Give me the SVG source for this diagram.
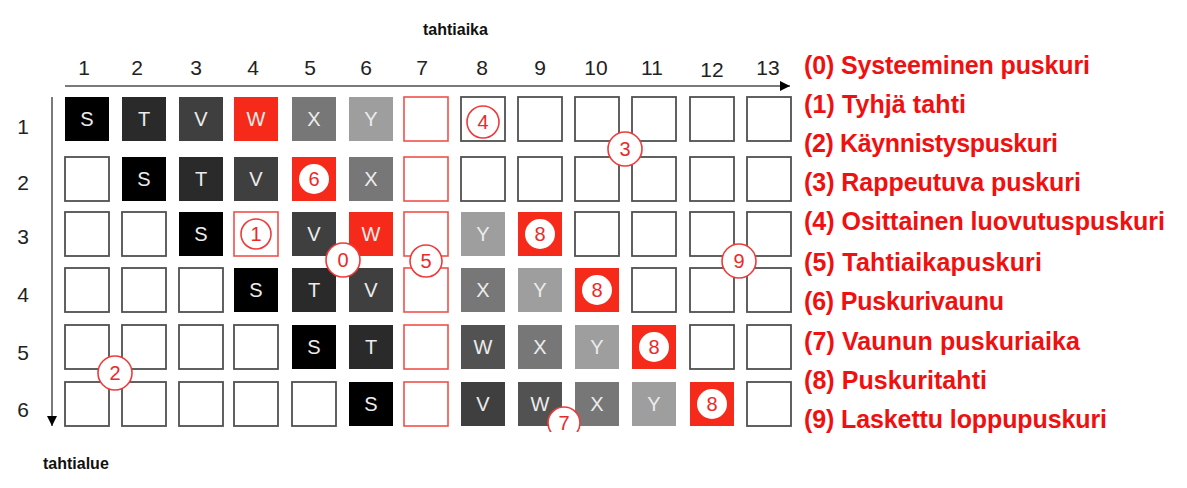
<svg xmlns="http://www.w3.org/2000/svg" width="1187" height="488" viewBox="0 0 1187 488">
<style>
.bg{fill:#fff}
.box{fill:#fff;stroke:#505050;stroke-width:1.8}
.rbox{fill:#fff;stroke:#f0504a;stroke-width:1.6}
.s{fill:#000}.t{fill:#2a2a2a}.v{fill:#3f3f3f}.wg{fill:#525252}.x{fill:#777}.y{fill:#9e9e9e}.wr{fill:#f52a1a}.r8{fill:#f52a1a}
.lt{font-family:"Liberation Sans",Arial,sans-serif;font-size:20px;fill:#ececec;text-anchor:middle}
.num{font-family:"Liberation Sans",Arial,sans-serif;font-size:21px;fill:#222;text-anchor:middle}
.ax{font-family:"Liberation Sans",Arial,sans-serif;font-size:16px;font-weight:bold;fill:#111}
.co{fill:#fff;stroke:#ef3a3a;stroke-width:1.6}
.ci{fill:#fff}
.cn{font-family:"Liberation Sans",Arial,sans-serif;font-size:20px;fill:#ea2a2a;text-anchor:middle}
.lg{font-family:"Liberation Sans",Arial,sans-serif;font-size:25px;font-weight:bold;fill:#f01010}
.axis{stroke:#7a7a7a;stroke-width:2;fill:none}
</style>
<defs>
<marker id="ah" viewBox="0 0 10 10" refX="10" refY="5" markerWidth="11" markerHeight="10" markerUnits="userSpaceOnUse" orient="auto"><path d="M0,0 L10,5 L0,10 z" fill="#000"/></marker>
<clipPath id="clip7"><rect x="540" y="400" width="50" height="32"/></clipPath>
</defs>
<rect class="bg" x="0" y="0" width="1187" height="488"/>

<g id="connectors">
<line class="axis" x1="65" y1="86" x2="790" y2="86" marker-end="url(#ah)"/>
<line class="axis" x1="52" y1="97" x2="52" y2="426" marker-end="url(#ah)"/>
</g>

<g id="labels">
<text class="ax" x="423" y="35">tahtiaika</text>
<text class="ax" x="43" y="469">tahtialue</text>
<text class="num" x="84" y="75">1</text>
<text class="num" x="137" y="75">2</text>
<text class="num" x="196" y="75">3</text>
<text class="num" x="253" y="75">4</text>
<text class="num" x="310" y="75">5</text>
<text class="num" x="366" y="75">6</text>
<text class="num" x="422" y="75">7</text>
<text class="num" x="482" y="75">8</text>
<text class="num" x="540" y="75">9</text>
<text class="num" x="596" y="75">10</text>
<text class="num" x="652" y="75">11</text>
<text class="num" x="712" y="77">12</text>
<text class="num" x="768" y="75">13</text>
<text class="num" x="23" y="134">1</text>
<text class="num" x="23" y="190">2</text>
<text class="num" x="23" y="244">3</text>
<text class="num" x="23" y="302">4</text>
<text class="num" x="23" y="360">5</text>
<text class="num" x="23" y="417">6</text>
</g>

<!-- Row 1 -->
<g id="r1c1"><rect class="s" x="65" y="97" width="44" height="44"/><text class="lt" x="87" y="126">S</text></g>
<g id="r1c2"><rect class="t" x="122" y="97" width="44" height="44"/><text class="lt" x="144" y="126">T</text></g>
<g id="r1c3"><rect class="v" x="179" y="97" width="44" height="44"/><text class="lt" x="201" y="126">V</text></g>
<g id="r1c4"><rect class="wr" x="234" y="97" width="44" height="44"/><text class="lt" x="256" y="126">W</text></g>
<g id="r1c5"><rect class="x" x="292" y="97" width="44" height="44"/><text class="lt" x="314" y="126">X</text></g>
<g id="r1c6"><rect class="y" x="349" y="97" width="44" height="44"/><text class="lt" x="371" y="126">Y</text></g>
<g id="r1c7"><rect class="rbox" x="404" y="97" width="44" height="44"/></g>
<g id="r1c8"><rect class="box" x="461" y="97" width="44" height="44"/><circle class="co" cx="483" cy="122" r="16"/><text class="cn" x="483" y="129">4</text></g>
<g id="r1c9"><rect class="box" x="518" y="97" width="44" height="44"/></g>
<g id="r1c10"><rect class="box" x="575" y="97" width="44" height="44"/></g>
<g id="r1c11"><rect class="box" x="632" y="97" width="44" height="44"/></g>
<g id="r1c12"><rect class="box" x="690" y="97" width="44" height="44"/></g>
<g id="r1c13"><rect class="box" x="747" y="97" width="44" height="44"/></g>

<!-- Row 2 -->
<g id="r2c1"><rect class="box" x="65" y="157" width="44" height="44"/></g>
<g id="r2c2"><rect class="s" x="122" y="157" width="44" height="44"/><text class="lt" x="144" y="186">S</text></g>
<g id="r2c3"><rect class="t" x="179" y="157" width="44" height="44"/><text class="lt" x="201" y="186">T</text></g>
<g id="r2c4"><rect class="v" x="234" y="157" width="44" height="44"/><text class="lt" x="256" y="186">V</text></g>
<g id="r2c5"><rect class="r8" x="292" y="157" width="44" height="44"/><circle class="ci" cx="314" cy="179" r="15"/><text class="cn" x="314" y="186">6</text></g>
<g id="r2c6"><rect class="x" x="349" y="157" width="44" height="44"/><text class="lt" x="371" y="186">X</text></g>
<g id="r2c7"><rect class="rbox" x="404" y="157" width="44" height="44"/></g>
<g id="r2c8"><rect class="box" x="461" y="157" width="44" height="44"/></g>
<g id="r2c9"><rect class="box" x="518" y="157" width="44" height="44"/></g>
<g id="r2c10"><rect class="box" x="575" y="157" width="44" height="44"/></g>
<g id="r2c11"><rect class="box" x="632" y="157" width="44" height="44"/></g>
<g id="r2c12"><rect class="box" x="690" y="157" width="44" height="44"/></g>
<g id="r2c13"><rect class="box" x="747" y="157" width="44" height="44"/></g>

<!-- Row 3 -->
<g id="r3c1"><rect class="box" x="65" y="212" width="44" height="44"/></g>
<g id="r3c2"><rect class="box" x="122" y="212" width="44" height="44"/></g>
<g id="r3c3"><rect class="s" x="179" y="212" width="44" height="44"/><text class="lt" x="201" y="241">S</text></g>
<g id="r3c4"><rect class="rbox" x="234" y="212" width="44" height="44"/><circle class="co" cx="256" cy="234" r="15"/><text class="cn" x="256" y="241">1</text></g>
<g id="r3c5"><rect class="v" x="292" y="212" width="44" height="44"/><text class="lt" x="314" y="241">V</text></g>
<g id="r3c6"><rect class="wr" x="349" y="212" width="44" height="44"/><text class="lt" x="371" y="241">W</text></g>
<g id="r3c7"><rect class="rbox" x="404" y="212" width="44" height="44"/></g>
<g id="r3c8"><rect class="y" x="461" y="212" width="44" height="44"/><text class="lt" x="483" y="241">Y</text></g>
<g id="r3c9"><rect class="r8" x="518" y="212" width="44" height="44"/><circle class="ci" cx="540" cy="234" r="15"/><text class="cn" x="540" y="241">8</text></g>
<g id="r3c10"><rect class="box" x="575" y="212" width="44" height="44"/></g>
<g id="r3c11"><rect class="box" x="632" y="212" width="44" height="44"/></g>
<g id="r3c12"><rect class="box" x="690" y="212" width="44" height="44"/></g>
<g id="r3c13"><rect class="box" x="747" y="212" width="44" height="44"/></g>

<!-- Row 4 -->
<g id="r4c1"><rect class="box" x="65" y="268" width="44" height="44"/></g>
<g id="r4c2"><rect class="box" x="122" y="268" width="44" height="44"/></g>
<g id="r4c3"><rect class="box" x="179" y="268" width="44" height="44"/></g>
<g id="r4c4"><rect class="s" x="234" y="268" width="44" height="44"/><text class="lt" x="256" y="297">S</text></g>
<g id="r4c5"><rect class="t" x="292" y="268" width="44" height="44"/><text class="lt" x="314" y="297">T</text></g>
<g id="r4c6"><rect class="v" x="349" y="268" width="44" height="44"/><text class="lt" x="371" y="297">V</text></g>
<g id="r4c7"><rect class="rbox" x="404" y="268" width="44" height="44"/></g>
<g id="r4c8"><rect class="x" x="461" y="268" width="44" height="44"/><text class="lt" x="483" y="297">X</text></g>
<g id="r4c9"><rect class="y" x="518" y="268" width="44" height="44"/><text class="lt" x="540" y="297">Y</text></g>
<g id="r4c10"><rect class="r8" x="575" y="268" width="44" height="44"/><circle class="ci" cx="597" cy="290" r="15"/><text class="cn" x="597" y="297">8</text></g>
<g id="r4c11"><rect class="box" x="632" y="268" width="44" height="44"/></g>
<g id="r4c12"><rect class="box" x="690" y="268" width="44" height="44"/></g>
<g id="r4c13"><rect class="box" x="747" y="268" width="44" height="44"/></g>

<!-- Row 5 -->
<g id="r5c1"><rect class="box" x="65" y="325" width="44" height="44"/></g>
<g id="r5c2"><rect class="box" x="122" y="325" width="44" height="44"/></g>
<g id="r5c3"><rect class="box" x="179" y="325" width="44" height="44"/></g>
<g id="r5c4"><rect class="box" x="234" y="325" width="44" height="44"/></g>
<g id="r5c5"><rect class="s" x="292" y="325" width="44" height="44"/><text class="lt" x="314" y="354">S</text></g>
<g id="r5c6"><rect class="t" x="349" y="325" width="44" height="44"/><text class="lt" x="371" y="354">T</text></g>
<g id="r5c7"><rect class="rbox" x="404" y="325" width="44" height="44"/></g>
<g id="r5c8"><rect class="wg" x="461" y="325" width="44" height="44"/><text class="lt" x="483" y="354">W</text></g>
<g id="r5c9"><rect class="x" x="518" y="325" width="44" height="44"/><text class="lt" x="540" y="354">X</text></g>
<g id="r5c10"><rect class="y" x="575" y="325" width="44" height="44"/><text class="lt" x="597" y="354">Y</text></g>
<g id="r5c11"><rect class="r8" x="632" y="325" width="44" height="44"/><circle class="ci" cx="654" cy="347" r="15"/><text class="cn" x="654" y="354">8</text></g>
<g id="r5c12"><rect class="box" x="690" y="325" width="44" height="44"/></g>
<g id="r5c13"><rect class="box" x="747" y="325" width="44" height="44"/></g>

<!-- Row 6 -->
<g id="r6c1"><rect class="box" x="65" y="382" width="44" height="44"/></g>
<g id="r6c2"><rect class="box" x="122" y="382" width="44" height="44"/></g>
<g id="r6c3"><rect class="box" x="179" y="382" width="44" height="44"/></g>
<g id="r6c4"><rect class="box" x="234" y="382" width="44" height="44"/></g>
<g id="r6c5"><rect class="box" x="292" y="382" width="44" height="44"/></g>
<g id="r6c6"><rect class="s" x="349" y="382" width="44" height="44"/><text class="lt" x="371" y="411">S</text></g>
<g id="r6c7"><rect class="rbox" x="404" y="382" width="44" height="44"/></g>
<g id="r6c8"><rect class="v" x="461" y="382" width="44" height="44"/><text class="lt" x="483" y="411">V</text></g>
<g id="r6c9"><rect class="wg" x="518" y="382" width="44" height="44"/><text class="lt" x="540" y="411">W</text></g>
<g id="r6c10"><rect class="x" x="575" y="382" width="44" height="44"/><text class="lt" x="597" y="411">X</text></g>
<g id="r6c11"><rect class="y" x="632" y="382" width="44" height="44"/><text class="lt" x="654" y="411">Y</text></g>
<g id="r6c12"><rect class="r8" x="690" y="382" width="44" height="44"/><circle class="ci" cx="712" cy="404" r="15"/><text class="cn" x="712" y="411">8</text></g>
<g id="r6c13"><rect class="box" x="747" y="382" width="44" height="44"/></g>

<!-- callouts -->
<g id="callout0"><circle class="co" cx="343" cy="260" r="17"/><text class="cn" x="343" y="267">0</text></g>
<g id="callout2"><circle class="co" cx="115" cy="373" r="17"/><text class="cn" x="115" y="380">2</text></g>
<g id="callout3"><circle class="co" cx="625" cy="149" r="17"/><text class="cn" x="625" y="156">3</text></g>
<g id="callout5"><circle class="co" cx="426" cy="261" r="16"/><text class="cn" x="426" y="268">5</text></g>
<g id="callout7"><circle class="co" cx="564" cy="423" r="16" clip-path="url(#clip7)"/><text class="cn" x="564" y="430">7</text></g>
<g id="callout9"><circle class="co" cx="739" cy="261" r="17"/><text class="cn" x="739" y="268">9</text></g>

<g id="legend">
<text class="lg" x="804" y="74" textLength="286">(0) Systeeminen puskuri</text>
<text class="lg" x="804" y="113" textLength="162">(1) Tyhjä tahti</text>
<text class="lg" x="804" y="152" textLength="254">(2) Käynnistyspuskuri</text>
<text class="lg" x="804" y="191" textLength="277">(3) Rappeutuva puskuri</text>
<text class="lg" x="804" y="230" textLength="361">(4) Osittainen luovutuspuskuri</text>
<text class="lg" x="804" y="271" textLength="238">(5) Tahtiaikapuskuri</text>
<text class="lg" x="804" y="310" textLength="200">(6) Puskurivaunu</text>
<text class="lg" x="804" y="350" textLength="276">(7) Vaunun puskuriaika</text>
<text class="lg" x="804" y="389" textLength="183">(8) Puskuritahti</text>
<text class="lg" x="804" y="428" textLength="303">(9) Laskettu loppupuskuri</text>
</g>
</svg>
